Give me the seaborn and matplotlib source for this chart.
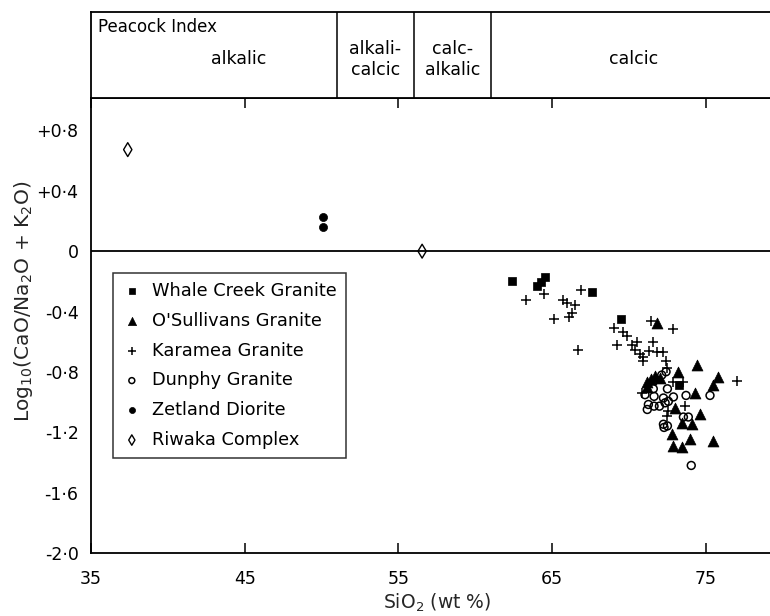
import matplotlib
matplotlib.use("Agg")
import matplotlib.pyplot as plt
import seaborn as sns
import pandas as pd

# ---------------- data ----------------
whale_x = [62.37, 64.00, 64.28, 64.54, 67.58, 69.46, 73.26]
whale_y = [-0.197, -0.228, -0.202, -0.174, -0.272, -0.447, -0.886]

osull_x = [71.84, 74.45, 73.21, 71.69, 71.15, 71.41, 72.02, 75.81, 75.49, 71.19,
           74.30, 73.00, 74.62, 73.43, 74.08, 72.78, 73.97, 75.45, 72.89, 73.43]
osull_y = [-0.474, -0.756, -0.799, -0.827, -0.864, -0.847, -0.838, -0.832, -0.886, -0.897,
           -0.940, -1.038, -1.081, -1.136, -1.147, -1.212, -1.244, -1.255, -1.288, -1.298]

karamea_x = [63.30, 64.49, 65.73, 65.14, 66.88, 65.99, 66.49, 66.27, 66.12, 66.70,
             69.05, 69.63, 69.85, 70.54, 69.20, 70.18, 70.39, 70.72, 70.93, 70.93,
             71.32, 71.55, 71.84, 72.24, 72.41, 72.46, 72.89, 72.89, 73.54, 70.83,
             73.65, 72.56, 72.46, 77.01, 71.45]
karamea_y = [-0.321, -0.285, -0.321, -0.451, -0.256, -0.343, -0.360, -0.408, -0.435, -0.658,
             -0.506, -0.534, -0.565, -0.604, -0.621, -0.625, -0.658, -0.679, -0.702, -0.730,
             -0.664, -0.599, -0.669, -0.669, -0.730, -0.777, -0.517, -0.864, -0.864, -0.940,
             -1.027, -1.060, -1.093, -0.858, -0.462]

dunphy_x = [72.41, 71.58, 72.50, 72.89, 72.24, 72.56, 71.63, 71.26, 71.63, 71.98,
            71.19, 73.71, 75.27, 73.54, 73.86, 72.24, 72.50, 72.28, 74.05, 71.04,
            72.35, 72.13]
dunphy_y = [-0.799, -0.912, -0.912, -0.966, -0.973, -0.995, -0.962, -1.016, -1.027, -1.027,
            -1.049, -0.956, -0.956, -1.099, -1.099, -1.147, -1.158, -1.168, -1.420, -0.951,
            -1.005, -0.821]

zetland_x = [50.07, 50.07]
zetland_y = [0.226, 0.161]

riwaka_x = [37.39, 56.54]
riwaka_y = [0.673, 0.0]

series_names = ["Whale Creek Granite", "O'Sullivans Granite", "Karamea Granite",
                "Dunphy Granite", "Zetland Diorite", "Riwaka Complex"]

peacock_bounds = [51, 56, 61]
peacock_labels = ["alkalic", "alkali-\ncalcic", "calc-\nalkalic", "calcic"]

x_ticks = [35, 45, 55, 65, 75]
x_tick_labels = ["35", "45", "55", "65", "75"]
y_ticks = [0.8, 0.4, 0.0, -0.4, -0.8, -1.2, -1.6, -2.0]
y_tick_labels = ["+0·8", "+0·4", "0", "-0·4", "-0·8", "-1·2", "-1·6", "-2·0"]

# ---------------- style ----------------
sns.set_theme(style="white")
plt.rcParams["font.family"] = ["DejaVu Sans"]
plt.rcParams["axes.edgecolor"] = "black"
plt.rcParams["text.color"] = "black"
plt.rcParams["xtick.color"] = "black"
plt.rcParams["ytick.color"] = "black"

fig = plt.figure(figsize=(7.7, 6.16), dpi=100)
L, W = 0.1182, 0.8983
ax = fig.add_axes([L, 0.1023, W, 0.7386])
axt = fig.add_axes([L, 0.8409, W, 0.1396])

frames = [
    (whale_x, whale_y, series_names[0], dict(marker="s", s=26, facecolor="black", edgecolor="black", linewidth=0.5)),
    (osull_x, osull_y, series_names[1], dict(marker="^", s=62, facecolor="black", edgecolor="black", linewidth=0.5)),
    (karamea_x, karamea_y, series_names[2], dict(marker="+", s=60, color="black", linewidth=1.1)),
    (dunphy_x, dunphy_y, series_names[3], dict(marker="o", s=32, facecolor="none", edgecolor="black", linewidth=1.1)),
    (zetland_x, zetland_y, series_names[4], dict(marker="o", s=34, facecolor="black", edgecolor="black", linewidth=0.5)),
    (riwaka_x, riwaka_y, series_names[5], dict(marker="d", s=50, facecolor="none", edgecolor="black", linewidth=1.0)),
]
for xs, ys, name, kw in frames:
    df = pd.DataFrame({"SiO2": xs, "logratio": ys})
    sns.scatterplot(data=df, x="SiO2", y="logratio", ax=ax, label=name, legend=False, zorder=3, **kw)

ax.axhline(0, color="black", lw=1.3, zorder=2)

ax.set_xlim(35, 80)
ax.set_ylim(-2.0, 1.015)
ax.set_xticks(x_ticks, x_tick_labels)
ax.set_yticks(y_ticks, y_tick_labels)
ax.tick_params(axis="x", direction="in", length=7, width=1.1, top=True, bottom=True,
               labelsize=12.5, pad=12)
ax.tick_params(axis="y", direction="out", length=6, width=1.1, labelsize=12.5, pad=3)
for sp in ax.spines.values():
    sp.set_linewidth(1.3)
    sp.set_color("black")

ax.set_xlabel("SiO$_2$ (wt %)", fontsize=13.5, labelpad=3)
ax.set_ylabel("Log$_{10}$(CaO/Na$_2$O + K$_2$O)", fontsize=14.5)
ax.yaxis.set_label_coords(-0.081, 0.552)

leg = ax.legend(loc="upper left", bbox_to_anchor=(0.032, 0.615), frameon=True, fancybox=False,
                edgecolor="black", fontsize=12.8, labelspacing=0.66, handletextpad=0.6,
                borderpad=0.5, markerscale=0.75, handlelength=1.1, borderaxespad=0)
leg.get_frame().set_linewidth(1.1)

# top Peacock panel
axt.set_xlim(35, 80)
axt.set_ylim(0, 1)
axt.set_xticks([])
axt.set_yticks([])
for sp in axt.spines.values():
    sp.set_linewidth(1.3)
    sp.set_color("black")
for b in peacock_bounds:
    axt.axvline(b, color="black", lw=1.1)
edges = [35] + peacock_bounds + [80]
centers = [44.6, (edges[1] + edges[2]) / 2, (edges[2] + edges[3]) / 2, 70.3]
for lab, cx in zip(peacock_labels, centers):
    axt.text(cx, 0.45, lab, ha="center", va="center", fontsize=12.5, linespacing=1.25)
axt.text(35.45, 0.83, "Peacock Index", ha="left", va="center", fontsize=12)

fig.savefig("out.png", dpi=100, facecolor="white")
